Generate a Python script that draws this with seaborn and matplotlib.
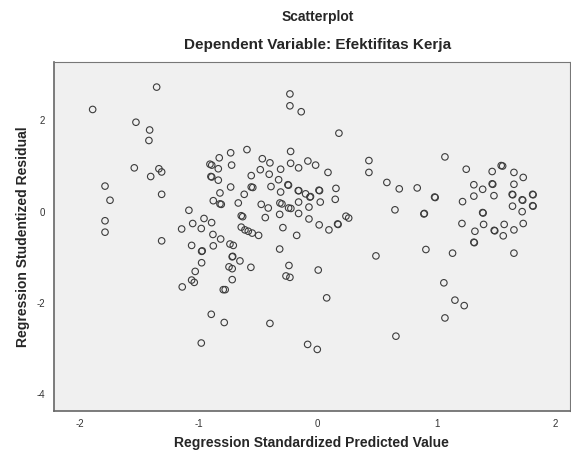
import matplotlib
matplotlib.use("Agg")
import matplotlib.pyplot as plt
import pandas as pd
import seaborn as sns

# Regression Standardized Predicted Value / Regression Studentized Residual
pred = [
    -1.891, -1.353, -1.527, -1.412, -1.418, -1.541, -1.334, -1.311, -1.403, -1.787,
    -1.745, -1.311, -1.787, -1.787, -1.311,
    -0.905, -0.890, -0.827, -0.835, -0.897, -0.890, -0.835, -0.821, -0.877, -0.821,
    -0.810, -1.082, -0.955, -1.050, -0.891, -1.143, -0.978, -0.880, -0.815, -1.059,
    -0.975, -0.970, -0.877, -0.975, -1.029, -1.059, -1.037, -1.138, -0.894, -0.785,
    -0.978, -0.793,
    -0.233, -0.233, -0.138, 0.179, -0.594, -0.731, -0.227, -0.465, -0.401, -0.723,
    -0.227, -0.160, -0.082, -0.017, 0.087, -0.311, -0.482, -0.407, -0.558, -0.328,
    -0.731, -0.558, -0.545, -0.392, -0.250, -0.245, -0.311, -0.163, -0.158, -0.101,
    -0.065, -0.060, 0.011, 0.016, 0.154, -0.617, -0.667, -0.474, -0.415, -0.317,
    -0.300, -0.244, -0.225, -0.160, -0.073, 0.022, 0.148, -0.319, -0.160, -0.642,
    -0.630, -0.440, -0.073, 0.013, 0.095, 0.168, 0.172, -0.642, -0.611, -0.583,
    -0.550, -0.496, -0.292, -0.176, -0.737, -0.709, -0.718, -0.714, -0.653, -0.745,
    -0.718, -0.561, -0.718, -0.777, -0.401, -0.319, -0.241, -0.266, -0.233, 0.005,
    0.076, -0.084, -0.003, 0.238, 0.261,
    0.431, 0.431, 1.070, 0.582, 0.686, 0.837, 0.983, 0.988, 0.650, 0.893,
    0.897, 0.490, 0.910, 1.134, 1.061, 1.154, 1.232, 1.070, 0.658,
    1.249, 1.467, 1.543, 1.555, 1.650, 1.728, 1.313, 1.387, 1.467, 1.472,
    1.650, 1.313, 1.482, 1.635, 1.640, 1.719, 1.724, 1.807, 1.811, 1.807,
    1.811, 1.218, 1.638, 1.719, 1.387, 1.391, 1.213, 1.395, 1.568, 1.728,
    1.322, 1.484, 1.489, 1.560, 1.650, 1.313, 1.317, 1.650,
]
resid = [
    2.24, 2.73, 1.96, 1.79, 1.56, 0.96, 0.94, 0.87, 0.77, 0.56,
    0.25, 0.38, -0.20, -0.45, -0.64,
    1.04, 1.02, 1.18, 0.94, 0.77, 0.76, 0.69, 0.41, 0.24, 0.17,
    0.16, 0.03, -0.15, -0.26, -0.24, -0.38, -0.37, -0.50, -0.60, -0.74,
    -0.87, -0.86, -0.75, -1.12, -1.31, -1.50, -1.55, -1.65, -2.25, -2.43,
    -2.88, -1.71,
    2.58, 2.32, 2.19, 1.72, 1.36, 1.29, 1.32, 1.16, 1.07, 1.02,
    1.06, 0.96, 1.11, 1.02, 0.86, 0.93, 0.92, 0.82, 0.79, 0.70,
    0.54, 0.54, 0.53, 0.55, 0.59, 0.58, 0.43, 0.46, 0.46, 0.39,
    0.32, 0.33, 0.47, 0.46, 0.51, 0.38, 0.19, 0.16, 0.08, 0.19,
    0.17, 0.08, 0.07, 0.21, 0.10, 0.21, 0.27, -0.06, -0.04, -0.09,
    -0.11, -0.13, -0.16, -0.29, -0.40, -0.27, -0.28, -0.34, -0.40, -0.43,
    -0.47, -0.52, -0.35, -0.52, -0.71, -0.74, -0.99, -0.98, -1.08, -1.21,
    -1.25, -1.22, -1.49, -1.71, -2.45, -0.82, -1.18, -1.41, -1.44, -1.28,
    -1.89, -2.91, -3.02, -0.10, -0.14,
    1.12, 0.86, 1.20, 0.64, 0.50, 0.52, 0.32, 0.31, 0.04, -0.05,
    -0.04, -0.97, -0.83, -0.91, -1.56, -1.94, -2.06, -2.33, -2.73,
    0.93, 0.88, 1.01, 1.00, 0.86, 0.75, 0.59, 0.49, 0.61, 0.60,
    0.60, 0.34, 0.35, 0.38, 0.37, 0.26, 0.25, 0.38, 0.37, 0.13,
    0.12, 0.22, 0.12, 0.00, -0.02, -0.03, -0.26, -0.28, -0.28, -0.26,
    -0.43, -0.41, -0.42, -0.53, -0.40, -0.67, -0.68, -0.91,
]

x_ticks = [-2, -1, 0, 1, 2]
y_ticks = [2, 0, -2, -4]

df = pd.DataFrame({"pred": pred, "resid": resid})

sns.set_style("white")
plt.rcParams["font.family"] = ["Liberation Sans", "DejaVu Sans"]
plt.rcParams["axes.unicode_minus"] = False

fig = plt.figure(figsize=(5.71, 4.55), dpi=100)
ax = fig.add_axes([0.0937, 0.0967, 0.9043, 0.767])
ax.set_facecolor("#f0f0f0")

sns.scatterplot(data=df, x="pred", y="resid", ax=ax, marker="o", s=22, legend=False)
pts = ax.collections[0]
pts.set_facecolor("none")
pts.set_edgecolor("#3c3c3c")
pts.set_linewidth(0.8)

ax.set_xlim(-2.22, 2.12)
ax.set_ylim(-4.37, 3.28)
ax.set_xticks(x_ticks)
ax.set_yticks(y_ticks)
ax.tick_params(axis="both", direction="out", length=4, width=0.8, color="#555555",
               labelsize=7, labelcolor="#333333", pad=2)
for side in ["left", "bottom"]:
    ax.spines[side].set_color("#666666")
    ax.spines[side].set_linewidth(1.2)
for side in ["top", "right"]:
    ax.spines[side].set_color("#777777")
    ax.spines[side].set_linewidth(0.8)

ax.set_xlabel("Regression Standardized Predicted Value", fontsize=10, fontweight="bold", labelpad=5)
ax.set_ylabel("Regression Studentized Residual", fontsize=10, fontweight="bold", labelpad=5)

fig.text(0.557, 0.962, "Scatterplot", ha="center", va="center", fontsize=10, fontweight="bold")
fig.text(0.557, 0.9, "Dependent Variable: Efektifitas Kerja", ha="center", va="center",
         fontsize=11, fontweight="bold")

fig.savefig("out.png", dpi=100)
